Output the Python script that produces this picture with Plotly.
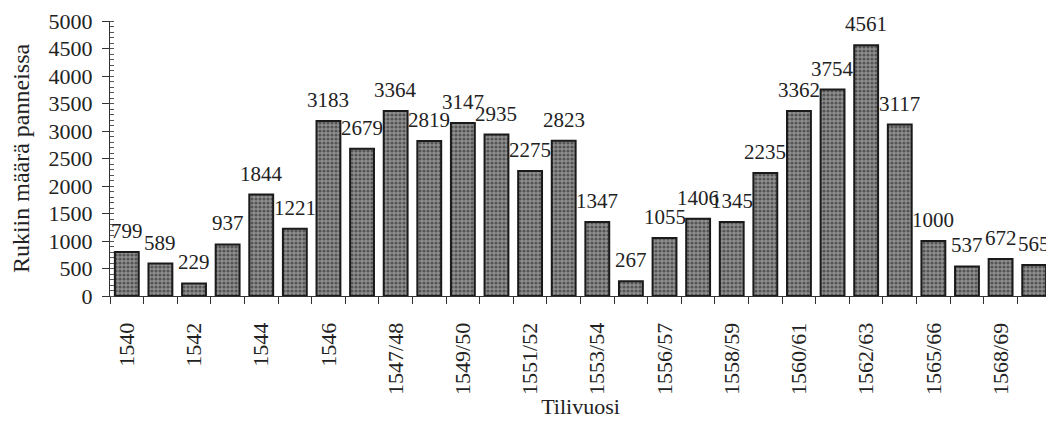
import plotly.graph_objects as go

categories = ["1540", "1541", "1542", "1543", "1544", "1545", "1546", "1546/47",
              "1547/48", "1548/49", "1549/50", "1550/51", "1551/52", "1552/53",
              "1553/54", "1554/55", "1556/57", "1557/58", "1558/59", "1559/60",
              "1560/61", "1561/62", "1562/63", "1563/64", "1565/66", "1566/67",
              "1568/69", "1569/70"]
values = [799, 589, 229, 937, 1844, 1221, 3183, 2679, 3364, 2819, 3147, 2935,
          2275, 2823, 1347, 267, 1055, 1406, 1345, 2235, 3362, 3754, 4561, 3117,
          1000, 537, 672, 565]
tick_labels = categories[::2]

idx = list(range(len(categories)))
FONT = "Liberation Serif, Times New Roman, serif"

fig = go.Figure()
fig.add_trace(go.Bar(
    x=idx, y=values,
    customdata=categories,
    marker=dict(
        color="#5e5e5e",
        line=dict(color="#1a1a1a", width=2),
        pattern=dict(shape=".", fgcolor="#1a1a1a", bgcolor="#909090",
                     size=4, solidity=0.5),
    ),
    hovertemplate="%{customdata}: %{y}<extra></extra>",
))

for i, v in zip(idx, values):
    fig.add_annotation(x=i, y=v, text=str(v), showarrow=False, yshift=21,
                       font=dict(family=FONT, size=21, color="#222"))

# the page body has an 8px margin, so the figure is sized/offset to compensate
fig.update_layout(
    width=1046, height=411,
    margin=dict(l=102, r=3, t=13, b=123),
    paper_bgcolor="white", plot_bgcolor="white",
    bargap=0.29,
    showlegend=False,
    font=dict(family=FONT, size=22, color="#222"),
)
fig.update_xaxes(
    automargin=False,
    range=[-0.5, 27.5],
    tickmode="array", tickvals=idx[::2], ticktext=tick_labels,
    tickangle=-90, ticks="outside", ticklen=0,
    ticklabelstandoff=17,
    minor=dict(tick0=-0.5, dtick=1, ticks="outside", ticklen=7,
               tickcolor="#333", tickwidth=1),
    showline=True, linecolor="#333", linewidth=1,
    showgrid=False, zeroline=False,
    title=dict(text="Tilivuosi", font=dict(family=FONT, size=22), standoff=16),
)
fig.update_yaxes(
    automargin=False,
    range=[0, 5000], tickmode="linear", tick0=0, dtick=500,
    ticks="outside", ticklen=7, tickcolor="#333",
    ticklabelstandoff=5,
    minor=dict(dtick=100, ticks="inside", ticklen=4, tickcolor="#555", tickwidth=1),
    showline=True, linecolor="#333", linewidth=1,
    showgrid=False, zeroline=False,
    title=dict(text="Rukiin määrä panneissa", font=dict(family=FONT, size=24), standoff=18),
)

fig.write_html("out.html")
